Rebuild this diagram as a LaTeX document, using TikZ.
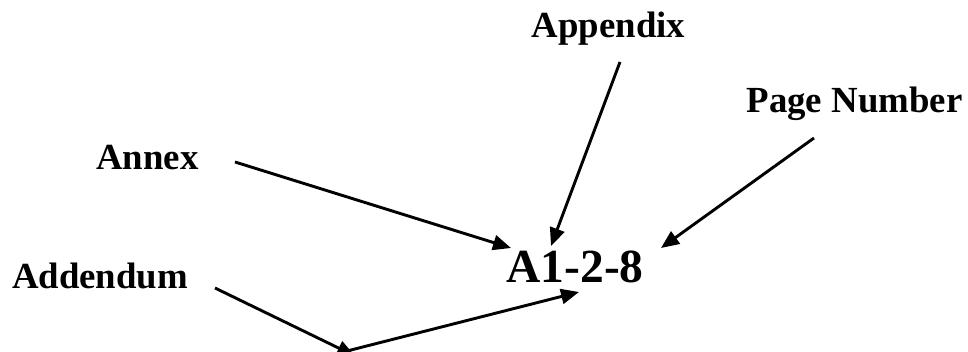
\documentclass[tikz,border=0pt]{standalone}
\usepackage{fontspec}
\setmainfont{Liberation Serif}
\usetikzlibrary{arrows.meta}
\begin{document}
\begin{tikzpicture}[x=1pt,y=-1pt,
  lbl/.style={font=\bfseries\fontsize{36.8}{40}\selectfont, anchor=base, inner sep=0pt},
  big/.style={font=\bfseries\fontsize{47.5}{50}\selectfont, anchor=base, inner sep=0pt},
  conn/.style={line width=2.9pt, -{Triangle[length=18pt,width=15pt]}}]
\useasboundingbox (0,0) rectangle (968,352);
\node[lbl] (appendix) at (608.5,38) {Appendix};
\node[lbl] (page) at (854.5,113) {Page Number};
\node[lbl] (annex) at (147.5,170) {Annex};
\node[lbl] (addendum) at (100,289) {Addendum};
\node[big] (code) at (575,283) {A1-2-8};
\coordinate (annexS) at (235,162);
\coordinate (annexE) at (511,248);
\coordinate (appS) at (620,62);
\coordinate (appE) at (551,246);
\coordinate (pageS) at (814,138);
\coordinate (pageE) at (661,248);
\coordinate (addS) at (215,288);
\coordinate (addE) at (355,356);
\coordinate (lowS) at (347,351);
\coordinate (lowE) at (579,292);
\begin{scope}
\clip (0,0) rectangle (968,352);
\draw[conn] (annexS) -- (annexE);
\draw[conn] (appS) -- (appE);
\draw[conn] (pageS) -- (pageE);
\draw[conn] (addS) -- (addE);
\draw[conn] (lowS) -- (lowE);
\end{scope}
\end{tikzpicture}
\end{document}
